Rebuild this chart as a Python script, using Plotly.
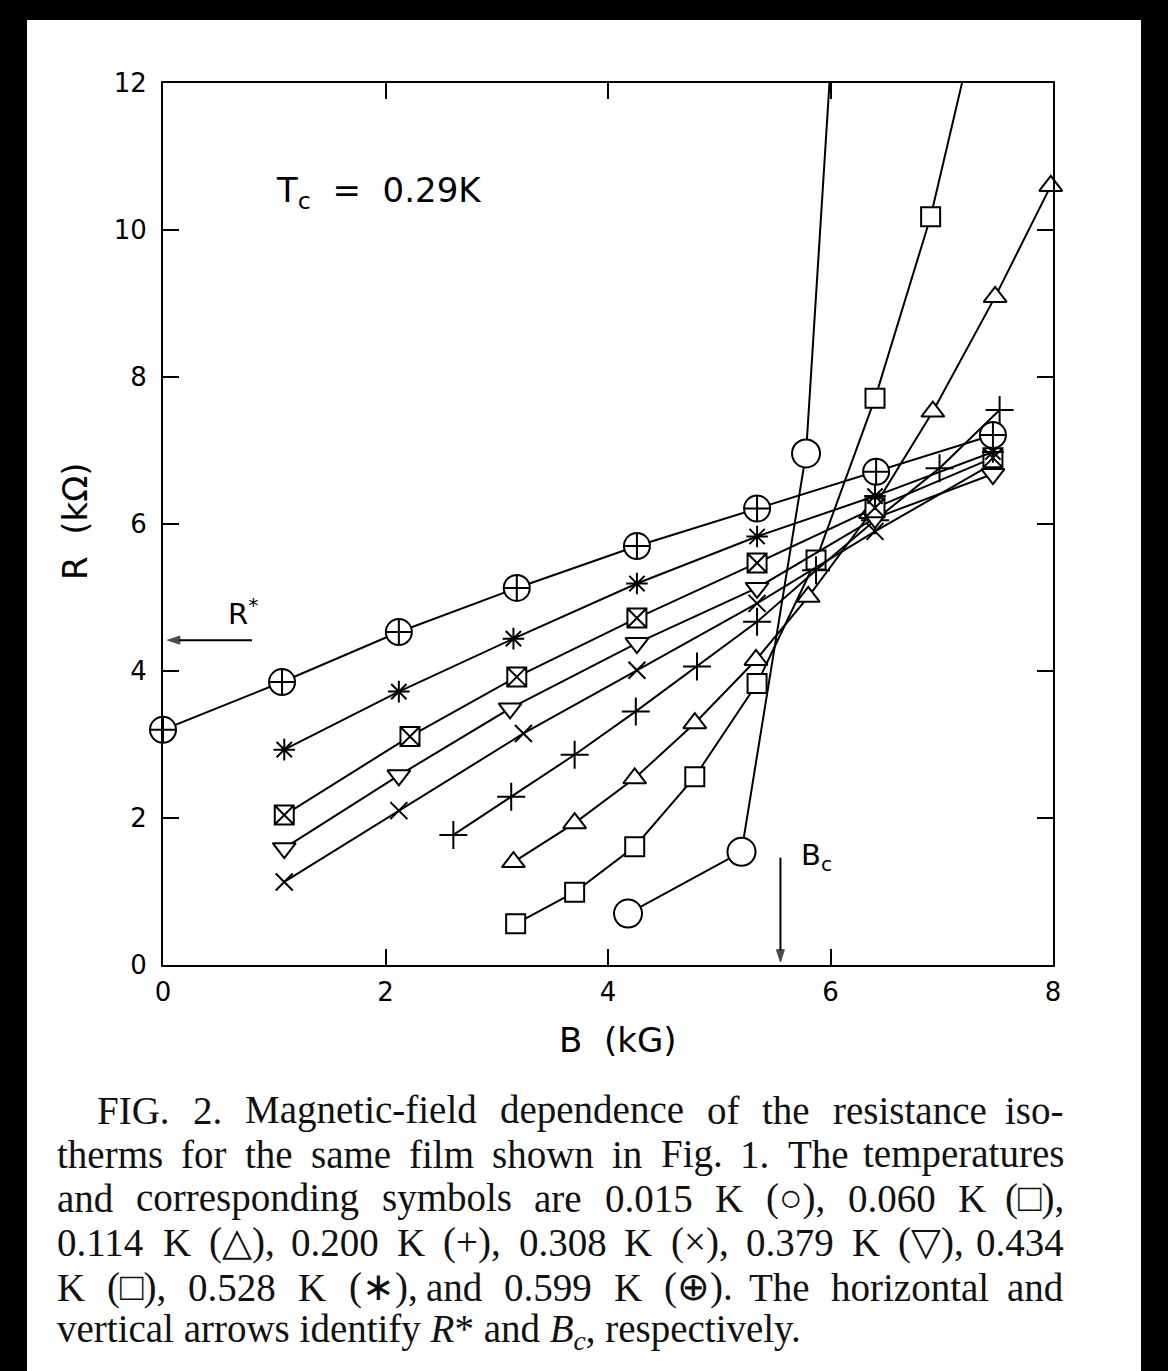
import plotly.graph_objects as go

# Magnetic-field dependence of the resistance isotherms
B_015 = [4.18, 5.20, 5.78, 6.30]
R_015 = [0.70, 1.54, 6.96, 19.4]

B_060 = [3.17, 3.70, 4.24, 4.78, 5.34, 5.87, 6.40, 6.90, 7.43]
R_060 = [0.56, 0.99, 1.61, 2.56, 3.83, 5.51, 7.71, 10.18, 13.6]

B_114 = [3.15, 3.70, 4.24, 4.78, 5.33, 5.80, 6.36, 6.92, 7.48, 7.98]
R_114 = [1.40, 1.93, 2.54, 3.29, 4.15, 5.01, 6.15, 7.53, 9.09, 10.60]

B_200 = [2.61, 3.13, 3.70, 4.25, 4.80, 5.34, 5.87, 6.40, 6.98, 7.52]
R_200 = [1.77, 2.29, 2.86, 3.45, 4.06, 4.67, 5.37, 6.05, 6.76, 7.55]

B_308 = [1.09, 2.12, 3.24, 4.26, 5.34, 6.40, 7.46]
R_308 = [1.13, 2.10, 3.15, 4.01, 4.92, 5.90, 6.82]

B_379 = [1.09, 2.12, 3.12, 4.26, 5.34, 6.40, 7.46]
R_379 = [1.59, 2.58, 3.49, 4.38, 5.13, 6.08, 6.68]

B_434 = [1.09, 2.22, 3.18, 4.26, 5.34, 6.40, 7.46]
R_434 = [2.04, 3.11, 3.92, 4.72, 5.47, 6.22, 6.90]

B_528 = [1.09, 2.12, 3.15, 4.26, 5.34, 6.40, 7.46]
R_528 = [2.93, 3.72, 4.44, 5.19, 5.83, 6.38, 6.98]

B_599 = [0.0, 1.07, 2.12, 3.18, 4.26, 5.34, 6.41, 7.46]
R_599 = [3.20, 3.85, 4.53, 5.13, 5.70, 6.21, 6.71, 7.21]

R_STAR = 4.42
B_C = 5.55

X_TICKS = [0, 2, 4, 6, 8]
Y_TICKS = [0, 2, 4, 6, 8, 10, 12]

CAPTION = [
    "FIG. 2.  Magnetic-field dependence of the resistance iso-",
    "therms for the same film shown in Fig. 1.  The temperatures",
    "and corresponding symbols are 0.015 K (○), 0.060 K (□),",
    "0.114 K (△), 0.200 K (+), 0.308 K (×), 0.379 K (▽), 0.434",
    "K (□), 0.528 K (∗), and 0.599 K (⊕).  The horizontal and",
]
CAPTION_LAST = ("vertical arrows identify <i>R</i>* and "
                "<i>B<sub>c</sub></i>, respectively.")

W, H = 1168, 1371
L, R, T, BOT = 163, 115, 83, 406
PW, PH = W - L - R, H - T - BOT


def px(xp):
    return (xp - L) / PW


def py(yp):
    return (H - BOT - yp) / PH


# approximate advance widths (em) of the serif caption face
SERIF_W = {" ": .25, ".": .25, ",": .25, "-": .333, "(": .333, ")": .333,
           "+": .564, "×": .564, "∗": .5, "○": .6, "□": .6, "△": .72,
           "▽": .72, "⊕": .68}
SERIF_W.update({c: .5 for c in "0123456789"})
SERIF_W.update(dict(zip("abcdefghijklmnopqrstuvwxyz",
                        [.444, .5, .444, .5, .444, .333, .5, .5, .278, .278, .5, .278, .778,
                         .5, .5, .5, .5, .333, .389, .278, .5, .5, .722, .5, .5, .444])))
SERIF_W.update(dict(zip("ABCDEFGHIJKLMNOPQRSTUVWXYZ",
                        [.722, .667, .667, .722, .611, .556, .722, .722, .333, .389, .722, .611,
                         .889, .722, .722, .556, .722, .667, .556, .611, .722, .722, .944, .722,
                         .722, .611])))


def word_width(w, size):
    return sum(SERIF_W.get(ch, .5) for ch in w) * size


series = [
    (B_015, R_015, "circle", 28, "white", True),
    (B_060, R_060, "square", 19, "white", True),
    (B_114, R_114, "triangle-up", 20, "white", False),
    (B_200, R_200, "cross-thin-open", 20, "black", True),
    (B_308, R_308, "x-thin-open", 17, "black", True),
    (B_379, R_379, "triangle-down", 20, "white", True),
    (B_434, R_434, "square-x", 19, "white", True),
    (B_528, R_528, "asterisk-open", 18, "black", True),
    (B_599, R_599, "circle-cross", 26, "white", False),
]

fig = go.Figure()
for bx, ry, sym, size, fill, clip in series:
    fig.add_trace(go.Scatter(
        x=bx, y=ry, mode="lines+markers",
        line=dict(color="black", width=2),
        marker=dict(symbol=sym, size=size, color=fill,
                    line=dict(color="black", width=2)),
        cliponaxis=clip, showlegend=False, hoverinfo="skip",
    ))

# R* and Bc indicator arrows
fig.add_trace(go.Scatter(
    x=[0.80, 0.04], y=[R_STAR, R_STAR], mode="lines+markers",
    line=dict(color="black", width=2),
    marker=dict(symbol="arrow", angleref="previous", size=[0, 13], color="black",
                line=dict(color="black", width=1)),
    cliponaxis=False, showlegend=False, hoverinfo="skip",
))
fig.add_trace(go.Scatter(
    x=[B_C, B_C], y=[1.46, 0.04], mode="lines+markers",
    line=dict(color="black", width=2),
    marker=dict(symbol="arrow", angleref="previous", size=[0, 13], color="black",
                line=dict(color="black", width=1)),
    cliponaxis=False, showlegend=False, hoverinfo="skip",
))

axis_common = dict(
    showgrid=False, zeroline=False, showline=True, linecolor="black",
    linewidth=2, mirror="ticks", ticks="inside", ticklen=16, tickwidth=2,
    tickcolor="black",
    tickfont=dict(family="DejaVu Sans", size=26, color="black"),
)

fig.update_xaxes(range=[0, 8], tickvals=X_TICKS, ticklabelstandoff=3, **axis_common)
fig.update_yaxes(range=[0, 12], tickvals=Y_TICKS, ticklabelstandoff=9, **axis_common)

sans = dict(family="DejaVu Sans", color="black")
ann = []
# axis titles
ann.append(dict(xref="paper", yref="paper", x=px(618), y=py(1040),
                text="B\u00a0\u00a0(kG)", showarrow=False, xanchor="center", yanchor="middle",
                font=dict(size=34, **sans)))
ann.append(dict(xref="paper", yref="paper", x=px(75), y=py(522),
                text="R\u00a0\u00a0(kΩ)", textangle=-90, showarrow=False,
                xanchor="center", yanchor="middle", font=dict(size=34, **sans)))
# Tc label
ann.append(dict(xref="paper", yref="paper", x=px(274), y=py(192),
                text="T<sub>c</sub>\u00a0\u00a0=\u00a0\u00a00.29K", showarrow=False,
                xanchor="left", yanchor="middle", font=dict(size=34, **sans)))
# arrow labels
ann.append(dict(x=0.72, y=4.80, xref="x", yref="y", text="R<sup>*</sup>",
                showarrow=False, font=dict(size=29, **sans)))
ann.append(dict(x=5.87, y=1.47, xref="x", yref="y", text="B<sub>c</sub>",
                showarrow=False, font=dict(size=29, **sans)))

# caption, justified word by word
CAP_SIZE = 39
cap_font = dict(family="Liberation Serif", size=CAP_SIZE, color="#111")
cap_y = [1110, 1154, 1198, 1242, 1287, 1331]
RIGHT = 1066
for i, (line, yc) in enumerate(zip(CAPTION, cap_y)):
    left = 95 if i == 0 else 55
    words = line.split()
    widths = [word_width(w, CAP_SIZE) for w in words]
    gap = (RIGHT - left - sum(widths)) / (len(words) - 1)
    xw = left
    for j, (w, wd) in enumerate(zip(words, widths)):
        last = j == len(words) - 1
        ann.append(dict(xref="paper", yref="paper",
                        x=px(RIGHT if last else xw), y=py(yc), text=w,
                        showarrow=False, xanchor="right" if last else "left",
                        yanchor="middle", font=cap_font))
        xw += wd + gap
ann.append(dict(xref="paper", yref="paper", x=px(55), y=py(cap_y[-1]), text=CAPTION_LAST,
                showarrow=False, xanchor="left", yanchor="middle", font=cap_font))

# dark scan edges
shapes = [
    dict(type="rect", xref="paper", yref="paper", x0=px(0), x1=px(27), y0=py(H), y1=py(0),
         fillcolor="black", line=dict(width=0), layer="above"),
    dict(type="rect", xref="paper", yref="paper", x0=px(1141), x1=px(W), y0=py(H), y1=py(0),
         fillcolor="black", line=dict(width=0), layer="above"),
    dict(type="rect", xref="paper", yref="paper", x0=px(0), x1=px(W), y0=py(20), y1=py(0),
         fillcolor="black", line=dict(width=0), layer="above"),
]

fig.update_layout(
    width=W, height=H, autosize=False,
    margin=dict(l=L, r=R, t=T, b=BOT),
    paper_bgcolor="white", plot_bgcolor="white",
    annotations=ann, shapes=shapes,
)

fig.write_html("out.html")
